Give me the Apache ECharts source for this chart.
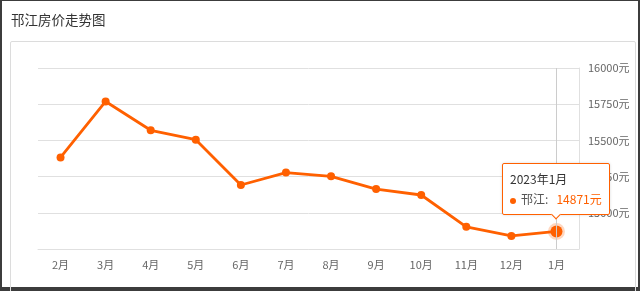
<!DOCTYPE html>
<html>
<head>
<meta charset="utf-8">
<script src="https://cdn.jsdelivr.net/npm/echarts@6/dist/echarts.min.js"></script>
<style>
html,body{margin:0;padding:0;background:#fff;}
#frame{position:absolute;left:0;top:0;width:640px;height:291px;box-sizing:border-box;border-style:solid;border-color:#3c3c3c;border-width:1px 2px 4px 2px;}
#panel{position:absolute;left:10px;top:41px;width:626px;height:260px;box-sizing:border-box;border:1px solid #dcdcdc;border-radius:2px;}
#chart{position:absolute;left:0;top:0;width:640px;height:291px;}
</style>
</head>
<body>
<div id="frame"></div>
<div id="panel"></div>
<div id="chart"></div>
<script>
var titleText = '邗江房价走势图';
var seriesName = '邗江';
var months = ['2月','3月','4月','5月','6月','7月','8月','9月','10月','11月','12月','1月'];
var fullMonths = ['2022年2月','2022年3月','2022年4月','2022年5月','2022年6月','2022年7月','2022年8月','2022年9月','2022年10月','2022年11月','2022年12月','2023年1月'];
var prices = [15382, 15769, 15570, 15505, 15192, 15278, 15252, 15164, 15123, 14903, 14840, 14871];
var yMin = 14750, yMax = 16000, yStep = 250;
var unit = '元';
var activeIndex = 11;

var orange = '#ff6000';
var font = '"Noto Sans CJK SC", "Noto Sans", sans-serif';

var seriesData = prices.map(function (v, i) {
  if (i === activeIndex) {
    return {
      value: v,
      symbolSize: 12,
      itemStyle: { color: orange, borderColor: 'rgba(255,96,0,0.25)', borderWidth: 5 }
    };
  }
  return v;
});

var chart = echarts.init(document.getElementById('chart'), null, { renderer: 'canvas' });
chart.setOption({
  animation: false,
  textStyle: { fontFamily: font },
  title: {
    text: titleText,
    left: 6,
    top: 8,
    textStyle: { fontSize: 13.5, fontWeight: 'normal', color: '#333', fontFamily: font }
  },
  grid: { left: 38, right: 61, top: 68, bottom: 42 },
  tooltip: {
    trigger: 'item',
    position: 'top',
    alwaysShowContent: true,
    triggerOn: 'none',
    backgroundColor: '#fff',
    borderWidth: 1,
    padding: [5, 7],
    textStyle: { fontSize: 12, color: '#333', fontFamily: font },
    extraCssText: 'box-shadow:0 0 3px rgba(0,0,0,0.15);border-radius:2px;line-height:20px;margin-top:2px;',
    formatter: function (p) {
      return fullMonths[p.dataIndex] + '<br/>' +
        '<span style="display:inline-block;width:6px;height:6px;border-radius:3px;background:' + orange + ';margin-right:5px;vertical-align:middle;"></span>' +
        '<span style="color:#555">' + seriesName + ':</span>&nbsp;&nbsp;&nbsp;<span style="color:' + orange + '">' +
        prices[p.dataIndex] + unit + '</span>';
    }
  },
  xAxis: {
    type: 'category',
    data: months,
    boundaryGap: true,
    axisLine: { lineStyle: { color: '#e0e0e0' } },
    axisTick: { alignWithLabel: true, length: 4, lineStyle: { color: '#ccc' } },
    axisLabel: { color: '#666', fontSize: 11, margin: 10, fontFamily: font },
    axisPointer: {
      show: true,
      type: 'line',
      value: activeIndex,
      status: 'show',
      triggerTooltip: false,
      label: { show: false },
      lineStyle: { color: '#cccccc', width: 1, type: 'solid' }
    }
  },
  yAxis: {
    type: 'value',
    position: 'right',
    min: yMin,
    max: yMax,
    interval: yStep,
    axisLine: { show: true, lineStyle: { color: '#e0e0e0' } },
    axisTick: { show: false },
    axisLabel: {
      showMinLabel: false,
      color: '#666',
      fontSize: 11,
      margin: 9,
      fontFamily: font,
      formatter: function (v) { return v + unit; }
    },
    splitLine: { lineStyle: { color: '#e0e0e0' } }
  },
  series: [{
    name: seriesName,
    type: 'line',
    data: seriesData,
    symbol: 'circle',
    symbolSize: 8,
    lineStyle: { color: orange, width: 2.8 },
    itemStyle: { color: orange },
    emphasis: { disabled: true }
  }]
});

chart.dispatchAction({ type: 'showTip', seriesIndex: 0, dataIndex: activeIndex });
</script>
</body>
</html>
